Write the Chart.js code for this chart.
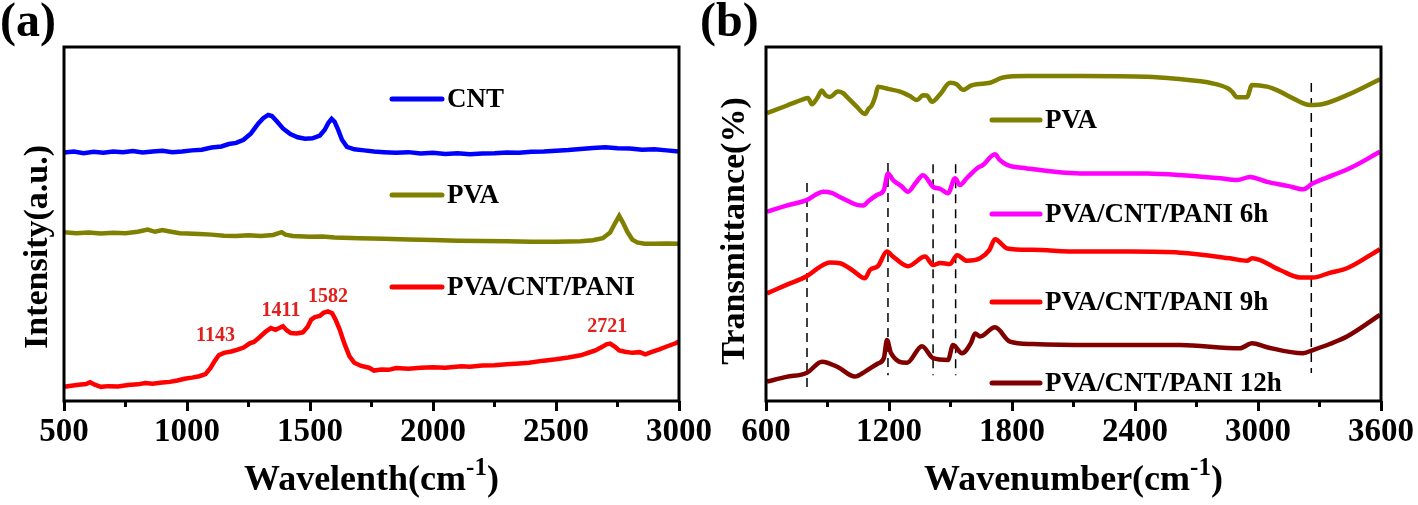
<!DOCTYPE html>
<html>
<head>
<meta charset="utf-8">
<script src="https://cdn.jsdelivr.net/npm/chart.js@4.4.1/dist/chart.umd.min.js"></script>
<style>
  body { margin: 0; background: #fff; width: 1418px; height: 505px; overflow: hidden; position: relative; }
  .panel { position: absolute; top: 0; height: 505px; }
</style>
</head>
<body>
<div class="panel" style="left:0;width:716px"><canvas id="chartA" width="716" height="505"></canvas></div>
<div class="panel" style="left:700px;width:718px"><canvas id="chartB" width="718" height="505"></canvas></div>
<script>
// ---- panel (a): Raman, wavelength (cm-1) vs intensity (a.u., offset) ----
var cntX = [500,540,580,620,660,700,740,780,820,860,900,940,980,1020,1060,1100,1140,1170,1200,1230,1260,1290,1310,1330,1345,1365,1390,1420,1450,1480,1510,1540,1560,1575,1588,1600,1615,1630,1650,1680,1720,1760,1800,1850,1900,1950,2000,2050,2100,2150,2200,2250,2300,2350,2400,2450,2500,2550,2600,2650,2700,2750,2800,2850,2900,2950,3000];
var cntY = [70.2,70.5,70.0,70.4,70.1,70.5,70.3,70.6,70.2,70.5,70.7,70.3,70.5,70.8,71.0,71.6,71.9,72.6,72.9,73.8,75.6,78.4,79.9,80.8,80.5,79.0,77.0,75.4,74.5,74.1,74.2,75.0,76.6,78.6,79.7,78.9,76.5,73.8,71.8,71.1,70.8,70.5,70.3,70.1,70.3,69.9,70.1,69.8,70.0,69.7,69.9,70.0,70.2,70.1,70.4,70.5,70.7,70.9,71.2,71.5,71.7,71.4,71.3,71.0,71.1,70.8,70.5];

var pvaAX = [500,550,600,650,700,750,800,840,870,900,930,970,1000,1050,1100,1150,1200,1250,1300,1350,1385,1400,1430,1500,1550,1600,1700,1800,1900,2000,2100,2200,2300,2400,2500,2600,2650,2690,2720,2740,2757,2772,2790,2810,2830,2860,2900,2950,3000];
var pvaAY = [47.7,47.4,47.6,47.3,47.5,47.4,47.8,48.4,47.8,48.3,47.9,47.4,47.3,47.2,47.0,46.7,46.6,46.8,46.6,46.9,47.7,47.0,46.6,46.4,46.5,46.2,46.0,45.8,45.6,45.5,45.3,45.2,45.1,45.0,45.0,45.1,45.4,46.0,47.6,50.2,52.3,50.4,47.8,45.6,44.8,44.4,44.4,44.5,44.4];

var paniX = [500,530,560,590,606,625,650,680,720,760,800,830,860,900,930,961,990,1020,1050,1075,1095,1110,1129,1150,1180,1206,1230,1255,1272,1295,1320,1341,1360,1375,1390,1405,1422,1445,1471,1490,1505,1520,1540,1555,1573,1590,1605,1620,1640,1660,1680,1708,1740,1760,1790,1820,1850,1900,1950,2000,2050,2116,2150,2200,2250,2300,2350,2390,2450,2500,2550,2600,2635,2660,2688,2705,2720,2740,2757,2780,2810,2840,2863,2890,2920,2950,2986,3000];
var paniY = [4.0,4.3,4.6,4.8,5.3,4.6,4.0,4.2,4.1,4.5,4.7,5.1,4.9,5.2,5.4,5.8,6.3,6.6,7.0,7.6,9.3,11.0,12.9,13.6,14.0,14.5,15.1,16.3,16.7,18.0,19.6,20.6,20.1,20.6,21.1,20.0,19.2,19.1,19.4,20.9,23.0,23.7,24.0,24.9,25.3,24.8,22.8,20.3,16.2,12.7,10.8,9.9,9.4,8.6,8.9,8.8,9.3,9.1,9.4,9.5,9.4,9.8,9.7,10.0,10.1,10.4,10.6,10.8,11.4,11.8,12.3,12.9,13.7,14.3,15.3,16.0,16.2,15.3,14.3,13.9,13.6,13.8,13.2,13.9,14.6,15.4,16.3,16.8];

var peakLabels = ['1143', '1411', '1582', '2721'];
var peakLabelX = [1116, 1382, 1573, 2708];
var peakLabelY = [18.4, 25.4, 29.4, 20.9];

// ---- panel (b): FTIR, wavenumber (cm-1) vs transmittance (offset) ----
var pvaBX = [605,700,780,805,824,850,873,890,912,951,975,995,1040,1083,1100,1117,1135,1146,1200,1254,1300,1337,1366,1385,1410,1450,1498,1530,1561,1600,1629,1693,1756,1873,2132,2459,2600,2780,2850,2873,2898,2946,2971,3044,3100,3171,3254,3317,3434,3595];
var pvaBY = [81.3,83.4,85.2,85.6,83.8,85.6,87.7,86.4,85.9,87.4,87.0,85.9,83.3,81.1,82.5,83.6,86.4,88.8,88.1,87.4,86.2,85.0,86.4,86.3,84.5,86.7,89.9,89.5,87.9,89.1,89.5,89.9,91.4,91.8,91.8,91.6,91.0,89.7,88.4,87.4,85.8,85.8,89.3,88.8,87.6,85.5,83.6,83.9,86.4,90.9];

var h6X = [605,700,800,840,878,920,960,1000,1044,1073,1100,1141,1175,1195,1220,1260,1293,1330,1366,1415,1450,1488,1522,1546,1580,1629,1659,1717,1740,1776,1873,2132,2459,2650,2815,2898,2961,3044,3150,3220,3268,3366,3450,3595];
var h6Y = [53.5,55.2,56.8,58.2,59.1,58.8,57.6,56.5,55.4,55.2,56.5,58.2,59.6,64.3,62.4,60.7,59.1,61.6,63.8,60.5,59.9,58.7,62.9,61.0,63.0,65.7,66.7,69.7,68.1,66.7,65.7,64.3,64.3,63.7,62.9,62.4,63.3,61.9,60.7,59.8,61.5,63.8,65.8,70.4];

var h9X = [605,700,800,863,912,961,1020,1083,1107,1146,1190,1220,1293,1376,1415,1450,1498,1532,1580,1644,1690,1717,1776,1900,2132,2376,2620,2863,2946,2971,3107,3205,3268,3350,3434,3595];
var h9Y = [30.4,32.8,35.3,37.9,39.1,38.9,37.0,34.7,37.0,38.1,42.2,40.8,38.1,40.8,38.4,39.0,38.7,41.2,39.6,40.3,42.7,45.7,43.1,42.7,42.2,42.2,41.9,40.3,39.6,40.3,37.0,34.9,34.9,36.2,37.5,42.9];

var h12X = [605,700,800,873,950,1034,1083,1146,1175,1190,1210,1288,1361,1415,1488,1512,1556,1600,1620,1644,1717,1790,1900,2180,2620,2912,2971,3044,3220,3268,3350,3434,3595];
var h12Y = [5.5,6.8,8.0,11.1,9.6,6.9,8.3,10.6,12.1,17.2,13.5,10.8,15.5,12.1,11.6,15.8,13.5,16.4,19.1,18.2,20.8,16.8,16.1,15.8,15.8,14.9,16.3,15.2,13.5,14.4,16.1,18.2,24.3];

var guideX = [800, 1195, 1415, 1525, 3260];
var guideTop = [61.6, 67.2, 66.9, 66.9, 89.8];
var guideBottom = [3.7, 7.3, 7.3, 7.3, 7.9];

var FONT = '"Liberation Serif", "Times New Roman", serif';
Chart.defaults.font.family = FONT;
Chart.defaults.color = '#000';

function pts(xs, ys) {
  return xs.map(function (x, i) { return { x: x, y: ys[i] }; });
}

function series(label, xs, ys, color, smooth) {
  return {
    label: label,
    data: pts(xs, ys),
    borderColor: color,
    backgroundColor: color,
    borderWidth: 4.5,
    pointRadius: 0,
    fill: false,
    cubicInterpolationMode: smooth ? 'monotone' : 'default',
    tension: 0,
    inLegend: true
  };
}

// frame, minor ticks, titles, legend and labels
var deco = {
  id: 'deco',
  afterDraw: function (chart, args, o) {
    var ctx = chart.ctx, a = chart.chartArea, xs = chart.scales.x, ys = chart.scales.y;
    ctx.save();
    ctx.strokeStyle = '#000';
    ctx.fillStyle = '#000';

    // box
    ctx.lineWidth = 3;
    ctx.strokeRect(a.left, a.top, a.right - a.left, a.bottom - a.top);

    // minor ticks half way between labelled ones
    var step = o.step;
    for (var v = xs.min + step / 2; v < xs.max; v += step) {
      var px = xs.getPixelForValue(v);
      ctx.beginPath();
      ctx.moveTo(px, a.bottom);
      ctx.lineTo(px, a.bottom + 6);
      ctx.stroke();
    }

    // panel letter
    ctx.font = 'bold 48px ' + FONT;
    ctx.textBaseline = 'alphabetic';
    ctx.textAlign = 'left';
    ctx.fillText(o.letter, 0, 36);

    // x title with superscript
    var main = o.xTitle, sup = '-1', tail = ')';
    var big = 'bold 36px ' + FONT, small = 'bold 25px ' + FONT;
    ctx.font = big;
    var w1 = ctx.measureText(main).width, w3 = ctx.measureText(tail).width;
    ctx.font = small;
    var w2 = ctx.measureText(sup).width;
    var x0 = (a.left + a.right) / 2 - (w1 + w2 + w3) / 2, base = 490;
    ctx.font = big;
    ctx.fillText(main, x0, base);
    ctx.font = small;
    ctx.fillText(sup, x0 + w1, base - 15);
    ctx.font = big;
    ctx.fillText(tail, x0 + w1 + w2, base);

    // y title
    ctx.save();
    ctx.translate(o.yTitleX, o.yTitleY);
    ctx.rotate(-Math.PI / 2);
    ctx.font = 'bold 34px ' + FONT;
    ctx.textAlign = 'center';
    ctx.textBaseline = 'middle';
    ctx.fillText(o.yTitle, 0, 0);
    ctx.restore();

    // legend
    var lg = o.legend, k = 0;
    ctx.font = 'bold 27px ' + FONT;
    ctx.textAlign = 'left';
    ctx.textBaseline = 'middle';
    chart.data.datasets.forEach(function (ds) {
      if (!ds.inLegend) return;
      var y = lg.ys[k++];
      ctx.strokeStyle = ds.borderColor;
      ctx.lineWidth = 5;
      ctx.lineCap = 'round';
      ctx.beginPath();
      ctx.moveTo(lg.x1, y);
      ctx.lineTo(lg.x2, y);
      ctx.stroke();
      ctx.fillStyle = '#000';
      ctx.fillText(ds.label, lg.tx, y + 1);
    });

    // peak labels
    if (o.peaks) {
      ctx.font = 'bold 20px ' + FONT;
      ctx.fillStyle = '#e0201c';
      ctx.textAlign = 'center';
      o.peaks.text.forEach(function (t, i) {
        ctx.fillText(t, xs.getPixelForValue(o.peaks.x[i]), ys.getPixelForValue(o.peaks.y[i]));
      });
    }
    ctx.restore();
  }
};

function makeChart(id, datasets, xmin, xmax, step, padLeft, padRight, deco_opts) {
  return new Chart(document.getElementById(id), {
    type: 'line',
    data: { datasets: datasets },
    options: {
      responsive: false,
      animation: false,
      devicePixelRatio: 1,
      layout: { padding: { left: padLeft, right: padRight, top: 47, bottom: 0 } },
      plugins: { legend: { display: false }, tooltip: { enabled: false }, deco: deco_opts },
      scales: {
        x: {
          type: 'linear',
          min: xmin,
          max: xmax,
          ticks: {
            stepSize: step,
            font: { size: 33, weight: 'bold' },
            color: '#000',
            padding: 2,
            maxRotation: 0,
            callback: function (v) { return String(v); }
          },
          grid: { drawOnChartArea: false, drawTicks: true, tickLength: 10, tickWidth: 3, color: '#000' },
          border: { display: false },
          afterFit: function (s) { s.height = 104; }
        },
        y: { display: false, min: 0, max: 100 }
      }
    },
    plugins: [deco]
  });
}

makeChart('chartA', [
  series('CNT', cntX, cntY, '#0000ff', false),
  series('PVA', pvaAX, pvaAY, '#7f7f00', false),
  series('PVA/CNT/PANI', paniX, paniY, '#ff0000', false)
], 500, 3000, 500, 64, 37, {
  letter: '(a)', step: 500,
  xTitle: 'Wavelenth(cm', yTitle: 'Intensity(a.u.)', yTitleX: 38, yTitleY: 247,
  legend: { x1: 392, x2: 442, tx: 447, ys: [99, 195, 287] },
  peaks: { text: peakLabels, x: peakLabelX, y: peakLabelY }
});

var bSets = [
  series('PVA', pvaBX, pvaBY, '#7f7f00', true),
  series('PVA/CNT/PANI 6h', h6X, h6Y, '#ff00ff', true),
  series('PVA/CNT/PANI 9h', h9X, h9Y, '#ff0000', true),
  series('PVA/CNT/PANI 12h', h12X, h12Y, '#800000', true)
];
guideX.forEach(function (x, i) {
  bSets.push({
    label: 'guide',
    data: [{ x: x, y: guideTop[i] }, { x: x, y: guideBottom[i] }],
    borderColor: '#000',
    borderWidth: 1.5,
    borderDash: [9, 6],
    pointRadius: 0,
    fill: false
  });
});

makeChart('chartB', bSets, 600, 3600, 600, 66, 37, {
  letter: '(b)', step: 600,
  xTitle: 'Wavenumber(cm', yTitle: 'Transmittance(%)', yTitleX: 35, yTitleY: 231,
  legend: { x1: 292, x2: 340, tx: 345, ys: [120, 214, 302, 383] }
});
</script>
</body>
</html>
